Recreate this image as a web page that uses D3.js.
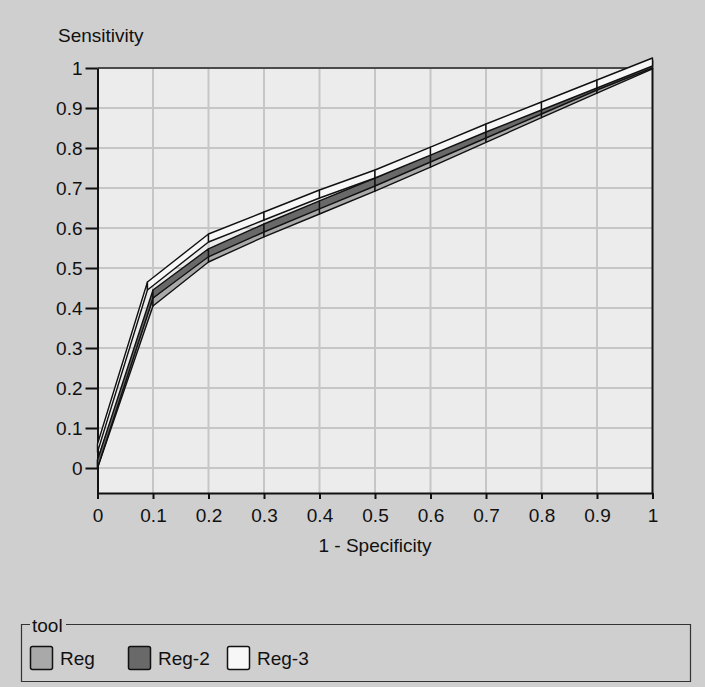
<!DOCTYPE html>
<html>
<head>
<meta charset="utf-8">
<script src="https://cdn.jsdelivr.net/npm/d3@7"></script>
<style>
  html, body { margin: 0; padding: 0; background: #cfcfcf; }
  svg text { font-family: "Liberation Sans", Arial, sans-serif; fill: #111; }
</style>
</head>
<body>
<div class="rocChart"></div>
<script>
/* ROC data: 1 - specificity and sensitivity per tool */
const fpr = [0, 0.1, 0.2, 0.3, 0.4, 0.5, 0.6, 0.7, 0.8, 0.9, 1];
const fprReg3 = [0, 0.09, 0.2, 0.3, 0.4, 0.5, 0.6, 0.7, 0.8, 0.9, 1];
const sensReg = [0, 0.405, 0.515, 0.578, 0.635, 0.692, 0.752, 0.814, 0.876, 0.937, 0.998];
const sensReg2 = [0, 0.425, 0.528, 0.59, 0.648, 0.705, 0.765, 0.825, 0.885, 0.945, 1.0];
const sensReg3 = [0.04, 0.445, 0.565, 0.62, 0.675, 0.725, 0.782, 0.84, 0.895, 0.95, 1.005];
const seriesNames = ["Reg", "Reg-2", "Reg-3"];
const tickVals = [0, 0.1, 0.2, 0.3, 0.4, 0.5, 0.6, 0.7, 0.8, 0.9, 1];

const colors = {"Reg": "#a9a9a9", "Reg-2": "#696969", "Reg-3": "#f7f7f7"};

const series = [
  {name: "Reg", x: fpr, y: sensReg},
  {name: "Reg-2", x: fpr, y: sensReg2},
  {name: "Reg-3", x: fprReg3, y: sensReg3}
];

/* chart dimensions */
const width = 705;
const height = 687;
const plot = {left: 97.5, right: 652.5, top: 68, bottom: 493};
const ribbon = 8; // ribbon thickness in px

const svg = d3.select('.rocChart')
  .append('svg')
  .attr("width", width)
  .attr("height", height);

svg.append("rect")
  .attr("width", width)
  .attr("height", height)
  .attr("fill", "#cfcfcf");

/* scales */
const xScale = d3.scaleLinear()
  .domain([0, 1])
  .range([plot.left, plot.right]);

const yScale = d3.scaleLinear()
  .domain([-0.0625, 1])
  .range([plot.bottom, plot.top]);

/* plot background */
svg.append("rect")
  .attr("x", plot.left)
  .attr("y", plot.top)
  .attr("width", plot.right - plot.left)
  .attr("height", plot.bottom - plot.top)
  .attr("fill", "#ececec");

/* grid */
const grid = svg.append("g").attr("class", "grid");
grid.selectAll("line.v")
  .data(tickVals.slice(1, -1))
  .join("line")
  .attr("class", "v")
  .attr("x1", d => xScale(d)).attr("x2", d => xScale(d))
  .attr("y1", plot.top).attr("y2", plot.bottom)
  .attr("stroke", "#c6c6c6").attr("stroke-width", 2);
grid.selectAll("line.h")
  .data(tickVals.slice(0, -1))
  .join("line")
  .attr("class", "h")
  .attr("x1", plot.left).attr("x2", plot.right)
  .attr("y1", d => yScale(d)).attr("y2", d => yScale(d))
  .attr("stroke", "#c6c6c6").attr("stroke-width", 2);

/* top and right frame */
svg.append("line")
  .attr("x1", plot.left).attr("x2", plot.right)
  .attr("y1", plot.top).attr("y2", plot.top)
  .attr("stroke", "#4a4a4a").attr("stroke-width", 2);
svg.append("line")
  .attr("x1", plot.right).attr("x2", plot.right)
  .attr("y1", plot.top).attr("y2", plot.bottom)
  .attr("stroke", "#111").attr("stroke-width", 2);

/* axes */
const yAxis = d3.axisLeft(yScale)
  .tickValues(tickVals)
  .tickFormat(d3.format("~g"))
  .tickSize(12)
  .tickSizeOuter(0)
  .tickPadding(3);

const xAxis = d3.axisBottom(xScale)
  .tickValues(tickVals)
  .tickFormat(d3.format("~g"))
  .tickSize(6)
  .tickSizeOuter(0)
  .tickPadding(10);

const yLabels = svg.append("g")
  .attr("class", "axis yAxis")
  .attr("transform", `translate(${plot.left}, 0)`)
  .call(yAxis);

const xLabels = svg.append("g")
  .attr("class", "axis xAxis")
  .attr("transform", `translate(0, ${plot.bottom})`)
  .call(xAxis);

[yLabels, xLabels].forEach(g => {
  g.select(".domain").attr("stroke", "#111").attr("stroke-width", 2);
  g.selectAll(".tick line").attr("stroke", "#111").attr("stroke-width", 2);
  g.selectAll(".tick text")
    .attr("fill", "#111")
    .style("font-size", "19px")
    .style("font-family", "'Liberation Sans', Arial, sans-serif");
});

/* axis titles */
svg.append("text")
  .attr("x", 58)
  .attr("y", 42)
  .style("font-size", "19px")
  .text("Sensitivity");

svg.append("text")
  .attr("x", (plot.left + plot.right) / 2)
  .attr("y", 552)
  .attr("text-anchor", "middle")
  .style("font-size", "19px")
  .text("1 - Specificity");

/* ribbons: one quad per segment so the joints show */
const ribbons = svg.append("g").attr("class", "ribbons");
series.forEach(s => {
  const segs = d3.range(s.x.length - 1).map(i => {
    const x0 = xScale(s.x[i]), y0 = yScale(s.y[i]);
    const x1 = xScale(s.x[i + 1]), y1 = yScale(s.y[i + 1]);
    return [[x0, y0], [x1, y1], [x1, y1 - ribbon], [x0, y0 - ribbon]];
  });
  ribbons.append("g")
    .selectAll("path")
    .data(segs)
    .join("path")
    .attr("d", d => "M" + d.join("L") + "Z")
    .attr("fill", colors[s.name])
    .attr("stroke", "#111")
    .attr("stroke-width", 1.4)
    .attr("stroke-linejoin", "round");
});

/* legend group box */
const legend = svg.append("g").attr("class", "legend");
legend.append("path")
  .attr("d", "M30,624.5 H21.5 V681.5 H690.5 V624.5 H66")
  .attr("fill", "none")
  .attr("stroke", "#333")
  .attr("stroke-width", 1.2);
legend.append("text")
  .attr("x", 32)
  .attr("y", 632)
  .style("font-size", "19px")
  .text("tool");

const legendX = [30, 128, 227];
const items = legend.selectAll("g.item")
  .data(seriesNames)
  .join("g")
  .attr("class", "item")
  .attr("transform", (d, i) => `translate(${legendX[i]}, 646)`);
items.append("rect")
  .attr("x", 0.5).attr("y", 0.5)
  .attr("width", 22).attr("height", 23)
  .attr("rx", 2)
  .attr("fill", d => colors[d])
  .attr("stroke", "#111")
  .attr("stroke-width", 1.5);
items.append("text")
  .attr("x", 30)
  .attr("y", 19)
  .style("font-size", "19px")
  .text(d => d);
</script>
</body>
</html>
